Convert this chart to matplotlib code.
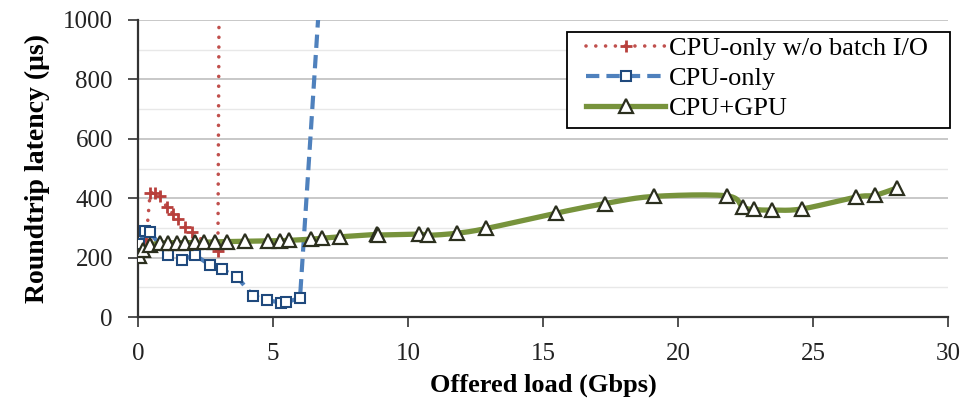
import numpy as np
import matplotlib
matplotlib.use("Agg")
import matplotlib.pyplot as plt
from matplotlib.ticker import MultipleLocator
from matplotlib.patches import Rectangle

# ---- data ----
nobatch_x = [0.3, 0.45, 0.63, 0.81, 1.07, 1.3, 1.5, 1.75, 2.0, 2.96, 3.05]
nobatch_y = [260, 418, 418, 407, 370, 347, 330, 303, 285, 222, 2000]

cpu_x = [0.05, 0.26, 0.44, 1.1, 1.63, 2.1, 2.67, 3.1, 3.67, 4.26, 4.78, 5.3, 5.5, 6.0, 6.74]
cpu_y = [245, 290, 286, 209, 192, 209, 175, 160, 135, 71, 57, 48, 50, 64, 1100]

gpu_x = [0.05, 0.2, 0.45, 0.8, 1.1, 1.45, 1.75, 2.1, 2.45, 2.85, 3.3, 3.96, 4.8, 5.26,
         5.6, 6.4, 6.8, 7.48, 8.85, 8.9, 10.4, 10.74, 11.8, 12.9, 15.5, 17.3, 19.1,
         21.8, 22.4, 22.8, 23.5, 24.6, 26.6, 27.3, 28.1]
gpu_y = [205, 225, 242, 248, 250, 250, 250, 251, 252, 253, 254, 255, 256, 257,
         258, 262, 265, 270, 278, 276, 279, 275, 282, 298, 350, 382, 406,
         408, 370, 362, 360, 364, 404, 410, 434]

labels = ["CPU-only w/o batch I/O", "CPU-only", "CPU+GPU"]
x_ticks = [0, 5, 10, 15, 20, 25, 30]
y_ticks = [0, 200, 400, 600, 800, 1000]


def smooth(xs, ys, n=12):
    """Bezier smoothing for drawing the line (like a spreadsheet smoothed line)."""
    xs = np.asarray(xs, float)
    ys = np.asarray(ys, float)
    px = np.concatenate([[2 * xs[0] - xs[1]], xs, [2 * xs[-1] - xs[-2]]])
    py = np.concatenate([[2 * ys[0] - ys[1]], ys, [2 * ys[-1] - ys[-2]]])
    ox, oy = [], []
    t = np.linspace(0, 1, n, endpoint=False)
    for i in range(1, len(px) - 2):
        p0, p1, p2, p3 = (np.array([px[j], py[j]]) for j in range(i - 1, i + 3))
        b1 = p1 + (p2 - p0) / 6.0
        b2 = p2 - (p3 - p1) / 6.0
        for tt in t:
            pt = ((1 - tt) ** 3) * p1 + 3 * ((1 - tt) ** 2) * tt * b1 \
                + 3 * (1 - tt) * tt ** 2 * b2 + tt ** 3 * p2
            ox.append(pt[0]); oy.append(pt[1])
    ox.append(xs[-1]); oy.append(ys[-1])
    return ox, oy


plt.rcParams['font.family'] = ['Liberation Serif', 'DejaVu Serif']

W, H = 978, 403
fig = plt.figure(figsize=(W / 100, H / 100), dpi=100)
ax = fig.add_axes([138 / W, 1 - 317 / H, (948 - 138) / W, (317 - 20) / H])

red = '#C0504D'
red_m = '#B8403C'
blue = '#4F81BD'
blue_m = '#1F497D'
green = '#77933C'
tri_edge = '#2B2F1E'

red_ls = (0, (0.01, 2.7))
blue_ls = (0, (3.2, 1.7))

ax.plot(nobatch_x, nobatch_y, color=red, linestyle=red_ls, linewidth=2.6,
        dash_capstyle='round', zorder=3)
ax.plot(nobatch_x[:-1], nobatch_y[:-1], linestyle='none', marker='+', markersize=9,
        markeredgewidth=2, color=red_m, zorder=4)

ax.plot(cpu_x, cpu_y, color=blue, linestyle=blue_ls, linewidth=3, zorder=3)
ax.plot(cpu_x[:-1], cpu_y[:-1], linestyle='none', marker='s', markersize=7.8,
        markerfacecolor='white', markeredgecolor=blue_m, markeredgewidth=1.5, zorder=4)

sx, sy = smooth(gpu_x, gpu_y)
ax.plot(sx, sy, color=green, linewidth=3.8, zorder=5)
ax.plot(gpu_x, gpu_y, linestyle='none', marker='^', markersize=9.5,
        markerfacecolor='white', markeredgecolor=tri_edge, markeredgewidth=1.6, zorder=6)

# legend
h1, = ax.plot([], [], color=red, linestyle=red_ls, linewidth=2.6, dash_capstyle='round',
              marker='+', markersize=9, markeredgewidth=2, markeredgecolor=red_m)
h2, = ax.plot([], [], color=blue, linestyle=blue_ls, linewidth=3, marker='s', markersize=7.8,
              markerfacecolor='white', markeredgecolor=blue_m, markeredgewidth=1.5)
h3, = ax.plot([], [], color=green, linewidth=3.8, marker='^', markersize=9.5,
              markerfacecolor='white', markeredgecolor=tri_edge, markeredgewidth=1.6)

box = Rectangle((567 / W, 1 - 128 / H), (950 - 567) / W, (128 - 32) / H,
                transform=fig.transFigure, facecolor='white', edgecolor='black',
                linewidth=1.3, zorder=9, clip_on=False)
ax.add_artist(box)
leg = ax.legend([h1, h2, h3], labels, loc='upper left',
                bbox_to_anchor=(582 / W, 1 - 33 / H), bbox_transform=fig.transFigure,
                fontsize=19, frameon=False, handlelength=3.0, handletextpad=0.15,
                labelspacing=0.24, borderpad=0.15, borderaxespad=0)
leg.set_zorder(10)

ax.set_xlim(0, 30)
ax.set_ylim(0, 1000)
ax.set_xticks(x_ticks)
ax.set_yticks(y_ticks)
ax.yaxis.set_minor_locator(MultipleLocator(100))
ax.grid(True, axis='y', which='major', color='#C4C4C4', linewidth=1.3, zorder=0)
ax.grid(True, axis='y', which='minor', color='#E8E8E8', linewidth=1.0, zorder=0)
ax.set_axisbelow(True)
ax.tick_params(axis='y', which='minor', length=0)
ax.tick_params(axis='both', which='major', labelsize=18, direction='out', length=7,
               width=1.2, colors='#333333', labelcolor='#222222')
ax.tick_params(axis='y', pad=11)
ax.tick_params(axis='x', pad=12)

for s in ['top', 'right']:
    ax.spines[s].set_visible(False)
for s in ['left', 'bottom']:
    ax.spines[s].set_color('#333333')
    ax.spines[s].set_linewidth(1.6)

ax.set_xlabel('Offered load (Gbps)', fontsize=19, fontweight='bold', labelpad=6)
ax.set_ylabel('Roundtrip latency (μs)', fontsize=20, fontweight='bold', labelpad=9)

fig.savefig('out.png', dpi=100)
